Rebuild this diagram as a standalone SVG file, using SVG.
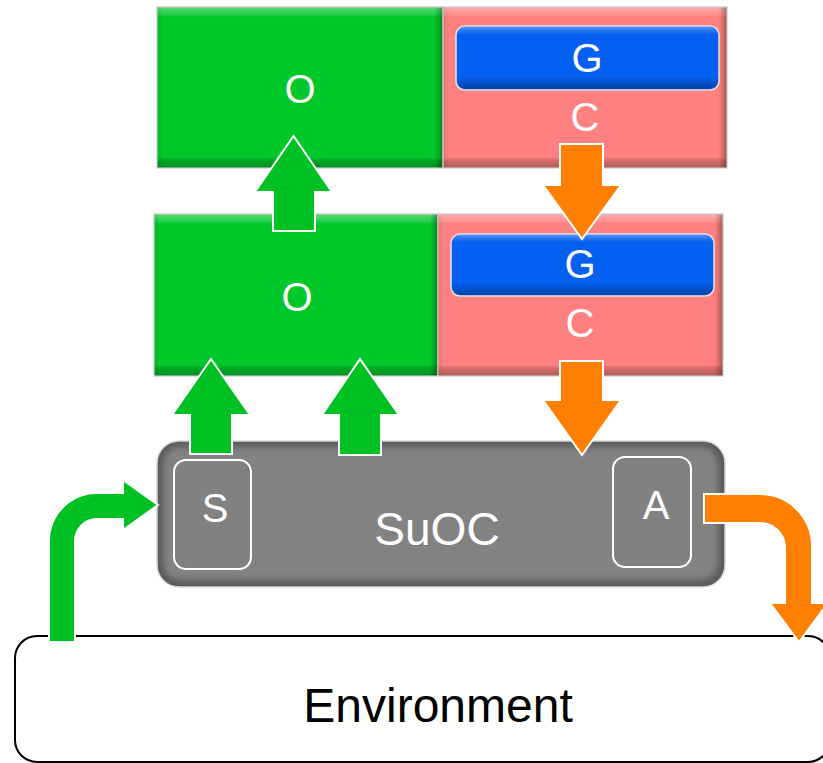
<svg xmlns="http://www.w3.org/2000/svg" width="823" height="763" viewBox="0 0 823 763">
  <defs>
    <!-- bevel overlays for the flat blocks -->
    <linearGradient id="bevelV" x1="0" y1="0" x2="0" y2="1">
      <stop offset="0" stop-color="#fff" stop-opacity="0.35"/>
      <stop offset="0.05" stop-color="#fff" stop-opacity="0.12"/>
      <stop offset="0.06" stop-color="#fff" stop-opacity="0"/>
      <stop offset="0.93" stop-color="#000" stop-opacity="0"/>
      <stop offset="0.95" stop-color="#000" stop-opacity="0.15"/>
      <stop offset="1" stop-color="#000" stop-opacity="0.3"/>
    </linearGradient>
    <linearGradient id="bevelH" x1="0" y1="0" x2="1" y2="0">
      <stop offset="0" stop-color="#000" stop-opacity="0.08"/>
      <stop offset="0.025" stop-color="#000" stop-opacity="0"/>
      <stop offset="0.97" stop-color="#000" stop-opacity="0"/>
      <stop offset="0.985" stop-color="#000" stop-opacity="0.15"/>
      <stop offset="1" stop-color="#000" stop-opacity="0.35"/>
    </linearGradient>
    <linearGradient id="barV" x1="0" y1="0" x2="0" y2="1">
      <stop offset="0" stop-color="#fff" stop-opacity="0.3"/>
      <stop offset="0.12" stop-color="#fff" stop-opacity="0"/>
      <stop offset="0.8" stop-color="#000" stop-opacity="0"/>
      <stop offset="1" stop-color="#000" stop-opacity="0.3"/>
    </linearGradient>
    <filter id="soft" x="-5%" y="-5%" width="110%" height="110%">
      <feGaussianBlur stdDeviation="3"/>
    </filter>
    <clipPath id="suocClip">
      <rect x="157" y="441" width="568" height="146" rx="22"/>
    </clipPath>
  </defs>
  <style>
    .lbl { font-family: "Liberation Sans", Arial, sans-serif; fill: #fff; text-anchor: middle; font-size: 40px; }
    .green { fill: #00c82a; }
    .pink { fill: #ff8080; }
    .blue { fill: #055ff0; stroke: #e4e4e4; stroke-width: 1.5; }
    .edge { fill: none; stroke: #c8c8c8; stroke-width: 1.2; }
    .arrowG { fill: #00c124; stroke: #fff; stroke-width: 2; stroke-linejoin: miter; }
    .arrowO { fill: #ff7f00; stroke: #fff; stroke-width: 2; stroke-linejoin: miter; }
    .port { fill: #818181; stroke: #fff; stroke-width: 2; }
  </style>

  <!-- Environment -->
  <g id="environment">
    <rect x="15" y="636" width="815" height="126" rx="22" fill="#fff" stroke="#000" stroke-width="2"/>
    <text x="438" y="722" style="font-family: 'Liberation Sans', Arial, sans-serif; font-size: 48px; fill: #000; text-anchor: middle;">Environment</text>
  </g>

  <!-- upper O block -->
  <g id="o-top">
    <rect class="green" x="157" y="7" width="286" height="161"/>
    <rect x="157" y="7" width="286" height="161" fill="url(#bevelV)"/>
    <rect x="157" y="7" width="286" height="161" fill="url(#bevelH)"/>
    <rect class="edge" x="157" y="7" width="286" height="161"/>
    <text class="lbl" x="300" y="103">O</text>
  </g>

  <!-- upper C block with G -->
  <g id="c-top">
    <rect class="pink" x="443" y="7" width="284" height="161"/>
    <rect x="443" y="7" width="284" height="161" fill="url(#bevelV)"/>
    <rect x="443" y="7" width="284" height="161" fill="url(#bevelH)"/>
    <rect class="edge" x="443" y="7" width="284" height="161"/>
    <text class="lbl" x="585" y="131">C</text>
  </g>
  <g id="g-top">
    <rect class="blue" x="456" y="26" width="263" height="64" rx="9"/>
    <rect x="457" y="27" width="261" height="62" rx="8" fill="url(#barV)"/>
    <text class="lbl" x="587" y="72">G</text>
  </g>

  <!-- lower O block -->
  <g id="o-mid">
    <rect class="green" x="154" y="214" width="284" height="162"/>
    <rect x="154" y="214" width="284" height="162" fill="url(#bevelV)"/>
    <rect x="154" y="214" width="284" height="162" fill="url(#bevelH)"/>
    <rect class="edge" x="154" y="214" width="284" height="162"/>
    <text class="lbl" x="297" y="311">O</text>
  </g>

  <!-- lower C block with G -->
  <g id="c-mid">
    <rect class="pink" x="438" y="214" width="285" height="162"/>
    <rect x="438" y="214" width="285" height="162" fill="url(#bevelV)"/>
    <rect x="438" y="214" width="285" height="162" fill="url(#bevelH)"/>
    <rect class="edge" x="438" y="214" width="285" height="162"/>
    <text class="lbl" x="580" y="337">C</text>
  </g>
  <g id="g-mid">
    <rect class="blue" x="451" y="234" width="263" height="62" rx="9"/>
    <rect x="452" y="235" width="261" height="60" rx="8" fill="url(#barV)"/>
    <text class="lbl" x="580" y="278">G</text>
  </g>

  <!-- system under observation and control -->
  <g id="suoc">
    <rect x="157" y="441" width="568" height="146" rx="22" fill="#5a5a5a" stroke="#d8d8d8" stroke-width="1.5"/>
    <g clip-path="url(#suocClip)">
      <rect x="163" y="447" width="555" height="133" rx="17" fill="#828282" filter="url(#soft)"/>
    </g>
    <text class="lbl" x="437" y="545" style="font-size: 46px;">SuOC</text>
  </g>
  <g id="sensor">
    <rect class="port" x="174" y="460" width="77" height="109" rx="12"/>
    <text class="lbl" x="215" y="522">S</text>
  </g>
  <g id="actuator">
    <rect class="port" x="613" y="457" width="78" height="110" rx="12"/>
    <text class="lbl" x="656" y="519">A</text>
  </g>

  <!-- connectors -->
  <g id="connectors">
    <!-- O to O -->
    <path class="arrowG" d="M273,231 L273,192 L255,192 L293.5,136 L332,192 L315,192 L315,231 Z"/>
    <!-- C to G -->
    <path class="arrowO" d="M560,144 L560,185 L543,185 L582,239 L621,185 L603,185 L603,144 Z"/>
    <!-- SuOC to O -->
    <path class="arrowG" d="M190,454 L190,415 L172,415 L211,359 L250,415 L232,415 L232,454 Z"/>
    <path class="arrowG" d="M339,455 L339,415 L322,415 L360,359 L399,415 L381,415 L381,455 Z"/>
    <!-- C to SuOC -->
    <path class="arrowO" d="M560,361 L560,400 L543,400 L582,455 L621,400 L603,400 L603,361 Z"/>
    <!-- Environment to S -->
    <path class="arrowG" d="M49,642 L49,541 A48,48 0 0 1 97,493 L123,493 L123,480 L158,505 L123,530 L123,519 L97,519 A22,22 0 0 0 75,541 L75,642 Z"/>
    <!-- A to Environment -->
    <path class="arrowO" d="M704,494 L760,494 A52,52 0 0 1 812,546 L812,603 L828,603 L799,642 L770,603 L785,603 L785,546 A25,25 0 0 0 760,523 L704,523 Z"/>
  </g>
</svg>
